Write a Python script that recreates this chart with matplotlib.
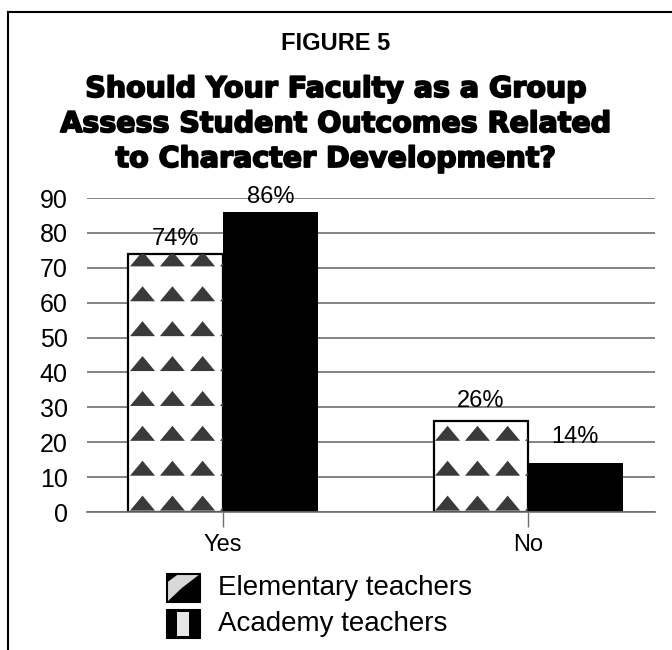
import numpy as np
import matplotlib
matplotlib.use('Agg')
import matplotlib.pyplot as plt
import matplotlib.patheffects as pe
from matplotlib.patches import Rectangle, Polygon
from matplotlib.lines import Line2D

categories = ['Yes', 'No']
elementary = [74, 26]
academy = [86, 14]
series_names = ['Elementary teachers', 'Academy teachers']
yticks = [0, 10, 20, 30, 40, 50, 60, 70, 80, 90]
title_top = 'FIGURE 5'
title_lines = ['Should Your Faculty as a Group',
               'Assess Student Outcomes Related',
               'to Character Development?']

W, H = 672, 650
plt.rcParams['font.family'] = ['Liberation Sans', 'DejaVu Sans']

fig = plt.figure(figsize=(W / 100, H / 100), dpi=100)


def fx(px):
    return px / W


def fy(py):
    return 1 - py / H


ax = fig.add_axes([fx(87), fy(512), fx(655 - 87), (512 - 198) / H])
ax.set_xlim(-0.446, 1.416)
ax.set_ylim(0, 90)

grid_c = '#6e6e6e'
x = np.arange(len(categories))
w = 0.31

elem_bars = ax.bar(x - w / 2, elementary, w, facecolor='white', edgecolor='black', lw=1.6, zorder=2)
acad_bars = ax.bar(x + w / 2, academy, w, color='black', zorder=2)

# triangle pattern inside the elementary bars
tw, th = 0.082, 4.3
for bar, v in zip(elem_bars, elementary):
    left = bar.get_x()
    for row in range(int(np.ceil(v / 10))):
        base = row * 10 + 0.4
        for off in [0.046, 0.144, 0.243, 0.341]:
            cx = left + off
            tri = Polygon([[cx - tw / 2, base], [cx + tw / 2, base], [cx, base + th]],
                          closed=True, facecolor='#3a3a3a', edgecolor='none', zorder=3)
            ax.add_patch(tri)
            tri.set_clip_path(bar)

# value labels
pads = [[3, 3], [7, 11]]
for i in range(len(categories)):
    for bars, vals, j in [(elem_bars, elementary, 0), (acad_bars, academy, 1)]:
        b = bars[i]
        ax.annotate(f'{vals[i]}%', (b.get_x() + b.get_width() / 2, vals[i]),
                    xytext=(0, pads[i][j]), textcoords='offset points',
                    ha='center', va='bottom', fontsize=17)

ax.set_yticks(yticks)
ax.yaxis.grid(True, color=grid_c, lw=1.2)
ax.set_axisbelow(True)
ax.tick_params(axis='y', length=0, pad=14, labelsize=18)
ax.set_xticks(x)
ax.set_xticklabels(categories)
ax.tick_params(axis='x', length=11, width=1, color=grid_c, pad=5, labelsize=17)
for s in ['top', 'right', 'left']:
    ax.spines[s].set_visible(False)
ax.spines['bottom'].set_color(grid_c)
ax.spines['bottom'].set_linewidth(1.2)

# titles
fig.text(0.5, fy(43), title_top, ha='center', va='center', fontsize=17, weight='bold')
heavy = [pe.withStroke(linewidth=1.3, foreground='black')]
for k, line in enumerate(title_lines):
    fig.text(0.5, fy(89 + 35 * k), line, ha='center', va='center', fontsize=20.5,
             weight='bold', family='DejaVu Sans', path_effects=heavy)

# legend
for k, name in enumerate(series_names):
    cy = 588 + 36 * k
    x0, x1, y0, y1 = fx(167), fx(200), fy(cy + 14), fy(cy - 14)
    if k == 0:
        fig.add_artist(Rectangle((x0, y0), x1 - x0, y1 - y0, transform=fig.transFigure,
                                 facecolor='#d8d8d8', edgecolor='black', lw=1.5))
        fig.add_artist(Polygon([[x1, y1], [x1, y0], [x0, y0], [x0 + 0.45 * (x1 - x0), y0 + 0.5 * (y1 - y0)]],
                               closed=True, transform=fig.transFigure, facecolor='black', edgecolor='none'))
        fig.add_artist(Polygon([[x0, y1], [x0 + 0.35 * (x1 - x0), y1], [x0, y1 - 0.3 * (y1 - y0)]],
                               closed=True, transform=fig.transFigure, facecolor='black', edgecolor='none'))
    else:
        fig.add_artist(Rectangle((x0, y0), x1 - x0, y1 - y0, transform=fig.transFigure,
                                 facecolor='black', edgecolor='black', lw=1.5))
        fig.add_artist(Rectangle((x0 + 0.3 * (x1 - x0), y0 + 0.06 * (y1 - y0)), 0.38 * (x1 - x0),
                                 0.88 * (y1 - y0), transform=fig.transFigure,
                                 facecolor='#e6e6e6', edgecolor='none'))
    fig.text(fx(218), fy(cy), name, ha='left', va='center', fontsize=20)

# frame
fig.add_artist(Line2D([fx(8), 1], [fy(12), fy(12)], transform=fig.transFigure, color='black', lw=1.5))
fig.add_artist(Line2D([fx(8), fx(8)], [0, fy(12)], transform=fig.transFigure, color='black', lw=1.5))

fig.savefig('out.png', dpi=100)
